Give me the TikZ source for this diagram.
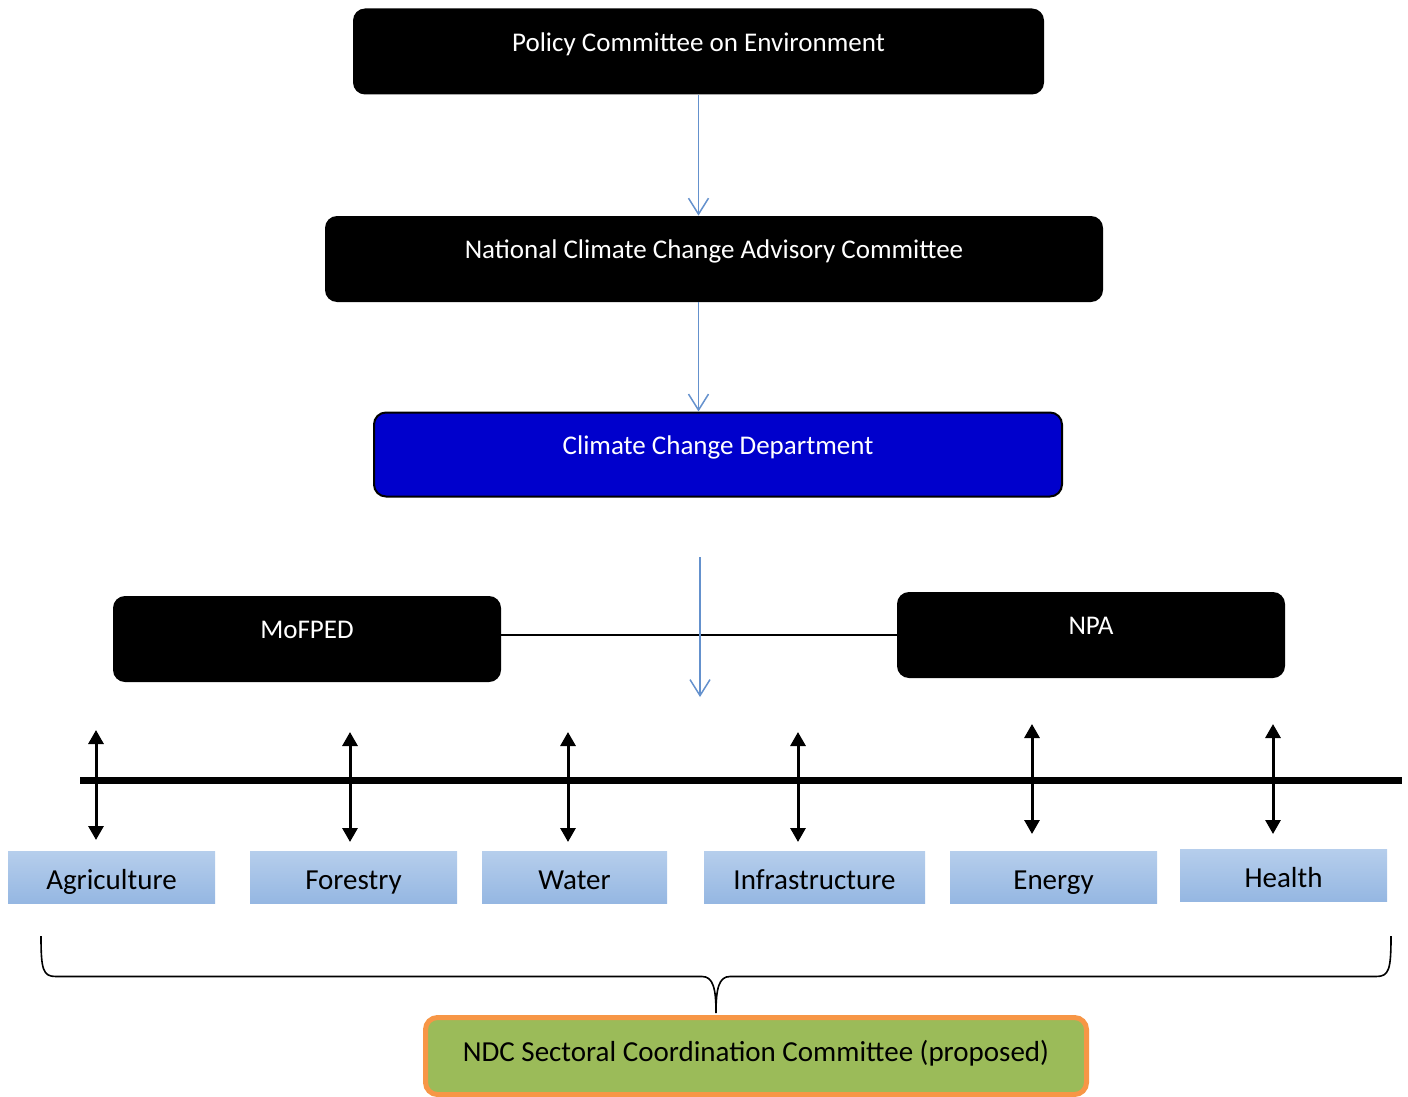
\documentclass[tikz,border=0pt]{standalone}
\usepackage{fontspec}
\setmainfont{Carlito}
\usetikzlibrary{arrows.meta,positioning}

\definecolor{ccdblue}{RGB}{0,0,204}
\definecolor{linkblue}{RGB}{100,145,205}
\definecolor{sectortop}{RGB}{182,206,236}
\definecolor{sectorbot}{RGB}{149,183,226}
\definecolor{ndcgreen}{RGB}{155,187,89}
\definecolor{ndcorange}{RGB}{247,150,70}

\tikzset{
  bodybox/.style={rounded corners=6pt, fill=black, text=white, minimum height=43pt,
    font=\fontsize{13.5}{16}\selectfont, text height=8pt, text depth=8.2pt},
  sectorbox/.style={top color=sectortop, bottom color=sectorbot, minimum height=26pt,
    font=\fontsize{14.5}{17}\selectfont, text height=12.5pt, text depth=0.5pt},
  flow/.style={linkblue, line width=0.75pt, -{Straight Barb[length=8pt,width=10pt]}},
  updown/.style={line width=1.5pt, {Triangle[width=7.5pt,length=7pt]}-{Triangle[width=7.5pt,length=7pt]}},
}

\begin{document}
\begin{tikzpicture}[x=0.5pt,y=-0.5pt]
\useasboundingbox (0,0) rectangle (1408,1097);

% committees
\node[bodybox, minimum width=345.5pt] (pce) at (698.5,51.5) {Policy Committee on Environment};
\node[bodybox, minimum width=389pt] (nccac) at (714,259) {National Climate Change Advisory Committee};
\node[bodybox, fill=ccdblue, draw=black, line width=1pt, minimum width=344pt, minimum height=42pt] (ccd) at (718,454.5) {Climate Change Department};
\node[bodybox, minimum width=194pt] (mofped) at (307,639) {MoFPED};
\node[bodybox, minimum width=194pt] (npa) at (1091,635) {NPA};

\draw[flow] (pce.south) -- (pce.south |- nccac.north);
\draw[flow] (pce.south |- nccac.south) -- (pce.south |- ccd.north);
\coordinate (down-a) at (700,557);
\coordinate (down-b) at (700,697);
\draw[line width=0.8pt] (mofped.east |- npa.west) -- (npa.west);
\draw[flow] (down-a) -- (down-b);

% sector bar
\coordinate (bar-l) at (80,780.5);
\coordinate (bar-r) at (1402,780.5);
\draw[line width=3.5pt] (bar-l) -- (bar-r);

\node[sectorbox, minimum width=103.5pt] (agri) at (111.5,877) {Agriculture};
\node[sectorbox, minimum width=103.5pt] (forest) at (353.5,877) {Forestry};
\node[sectorbox, minimum width=92.5pt] (water) at (574.5,877) {Water};
\node[sectorbox, minimum width=110.5pt] (infra) at (814.5,877) {Infrastructure};
\node[sectorbox, minimum width=103.5pt] (energy) at (1053.5,877) {Energy};
\node[sectorbox, minimum width=103.5pt] (health) at (1283.5,875) {Health};

\foreach \name/\x/\ya/\yb in {agri/96/730/840, forest/350/732/842, water/568/732/842,
    infra/798/732/842, energy/1032/724/834, health/1273/724/834} {
  \coordinate (\name-up) at (\x,\ya);
  \coordinate (\name-dn) at (\x,\yb);
  \draw[updown] (\name-up) -- (\name-dn);
}

% brace and proposed committee
\draw[line width=0.8pt] (41,936) .. controls (41,970) and (43,976.5) .. (56,976.5)
  -- (702,976.5) .. controls (713,976.5) and (716,988) .. (716,1013)
  .. controls (716,988) and (719,976.5) .. (730,976.5)
  -- (1376,976.5) .. controls (1389,976.5) and (1391,970) .. (1391,936);

\node[rounded corners=6pt, fill=ndcgreen, draw=ndcorange, line width=2.5pt,
  minimum width=330.5pt, minimum height=38.5pt, font=\fontsize{14.5}{17}\selectfont,
  text height=8.5pt, text depth=3.5pt] (ndc) at (756,1056) {NDC Sectoral Coordination Committee (proposed)};
\end{tikzpicture}
\end{document}
